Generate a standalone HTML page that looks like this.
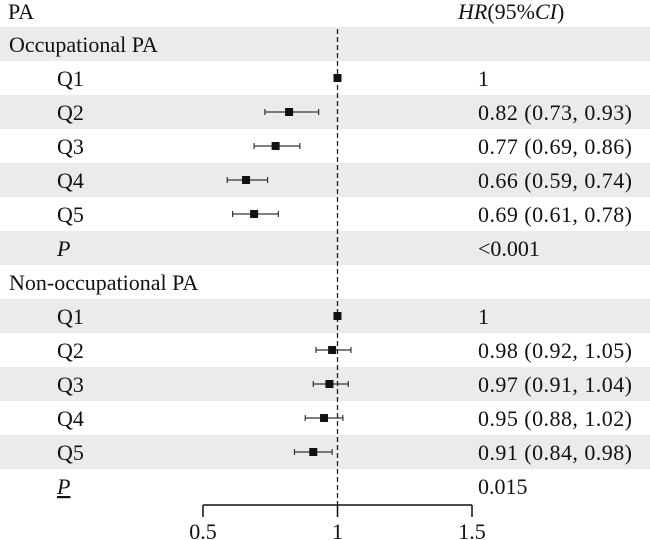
<!DOCTYPE html>
<html><head><meta charset="utf-8"><style>
body{margin:0;background:#fff}
svg{display:block;font-family:"Liberation Serif",serif;font-size:22px;fill:#111}
</style></head><body>
<svg width="650" height="540" viewBox="0 0 650 540" id="chart"></svg>
<script>
const labels=["Occupational PA","Q1","Q2","Q3","Q4","Q5","P","Non-occupational PA","Q1","Q2","Q3","Q4","Q5","P"];
const hr=[null,1,0.82,0.77,0.66,0.69,null,null,1,0.98,0.97,0.95,0.91,null];
const lo=[null,1,0.73,0.69,0.59,0.61,null,null,1,0.92,0.91,0.88,0.84,null];
const hi=[null,1,0.93,0.86,0.74,0.78,null,null,1,1.05,1.04,1.02,0.98,null];
const texts=["","1","0.82 (0.73, 0.93)","0.77 (0.69, 0.86)","0.66 (0.59, 0.74)","0.69 (0.61, 0.78)","<0.001","","1","0.98 (0.92, 1.05)","0.97 (0.91, 1.04)","0.95 (0.88, 1.02)","0.91 (0.84, 0.98)","0.015"];
const ticks=[0.5,1,1.5];
const NS="http://www.w3.org/2000/svg",svg=document.getElementById('chart');
const x=v=>203+(v-0.5)*269;
const rowY=i=>44+34*i;
function mk(t,a,p){const e=document.createElementNS(NS,t);for(const k in a)e.setAttribute(k,a[k]);(p||svg).appendChild(e);return e;}
labels.forEach((l,i)=>{if(i%2===0){const b=mk('rect',{x:0,y:rowY(i)-17,width:650,height:34,fill:'#ebebeb'});

}});
let t=mk('text',{x:8,y:19});t.textContent="PA";


t=mk('text',{x:458,y:19,'font-style':'italic'});t.innerHTML='HR<tspan font-style="normal">(95%</tspan>CI<tspan font-style="normal">)</tspan>';


labels.forEach((l,i)=>{
  const grp=(i===0||i===7);
  const tx=mk('text',{x:grp?9:57,y:rowY(i)+8});
  tx.textContent=l;
  if(l==="P"){tx.setAttribute('font-style','italic');if(i===13)tx.setAttribute('text-decoration','underline');}
  
  
  if(texts[i]){const v=mk('text',{x:478,y:rowY(i)+8});v.textContent=texts[i];
  if(texts[i].length>10)v.setAttribute('textLength','154');
  
  }
});
let d=mk('line',{x1:x(1),x2:x(1),y1:29,y2:505,stroke:'#222','stroke-width':1.3,'stroke-dasharray':'5,3'});


hr.forEach((h,i)=>{if(h===null)return;const y=rowY(i);
  if(hi[i]>lo[i]){
    let l=mk('line',{x1:x(lo[i]),x2:x(hi[i]),y1:y,y2:y,stroke:'#333','stroke-width':1.3});
    
    
    [lo[i],hi[i]].forEach(v=>{const c=mk('line',{x1:x(v),x2:x(v),y1:y-3,y2:y+3,stroke:'#333','stroke-width':1.2});
    
    });
  }
  const s=mk('rect',{x:x(h)-4,y:y-4,width:8,height:8,fill:'#111'});
  
  
});
let ax=mk('line',{x1:x(0.5),x2:x(1.5),y1:505,y2:505,stroke:'#111','stroke-width':1.5});


ticks.forEach(v=>{const k=mk('line',{x1:x(v),x2:x(v),y1:505,y2:517,stroke:'#111','stroke-width':1.5});


const tl=mk('text',{x:x(v),y:539,'text-anchor':'middle'});tl.textContent=String(v);

});
</script>
</body></html>
